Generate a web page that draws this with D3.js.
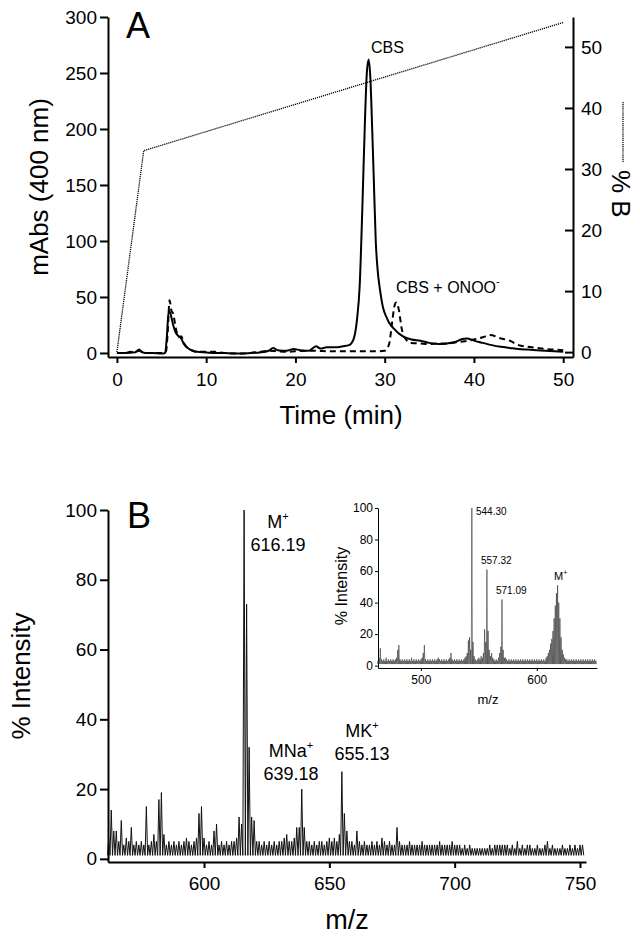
<!DOCTYPE html>
<html>
<head>
<meta charset="utf-8">
<script src="https://cdn.jsdelivr.net/npm/d3@7"></script>
<style>
body { margin: 0; background: #fff; }
text { font-family: Arial, "Liberation Sans", sans-serif; fill: #000; }
</style>
</head>
<body>
<script>
// ---- panel A data: HPLC traces (mAbs at 400 nm) and %B gradient
const cbsTime = [0,0.5,1,1.5,2,2.5,2.8,3.2,4,5,5.4,5.6,5.8,6.0,6.3,6.6,6.9,7.2,7.5,8,8.5,9,10,11,12,13,14,15,16,17,17.5,18,19,19.8,20.5,21.5,22.3,22.8,23.5,24.5,25.3,26,26.5,26.9,27.2,27.5,27.8,28.0,28.2,28.4,28.6,28.8,29.0,29.2,29.5,29.8,30.2,30.5,31,32,33,34,35,36,37,38,38.7,39.2,40,41,42,43,44,45,46,47,48,49,50];
const cbsAbs  = [0,0,0,1,0.5,3,1,0,0,-0.5,0,15,38,35,25,18,15,13,8,4,2,1,0.5,0,0,-0.5,-0.5,0,0.5,2,4.5,2.5,2,3.5,2.5,2,6,4,5,5,6,7,12,30,60,130,210,250,262,245,200,150,100,75,55,41,32,27,22,15,12,11,9,8,8.5,10,12.5,13,11,9,7,5.5,4.5,3.5,3,2.5,2,1.5,1];

const onooTime = [0,1,2,2.5,3,4,5,5.5,5.7,5.9,6.1,6.3,6.6,6.9,7.2,7.5,8,8.5,9,10,11,12,14,15,16,17,18,19,20,22,24,26,28,29,30,30.5,30.8,31.1,31.3,31.6,31.9,32.3,33,34,35,36,37,38,39,40,41,41.8,43,44,45,46,47,48,49,50];
const onooAbs  = [0,0,0.5,2,0,0,0,1,20,47,38,35,22,14,15,9,4,2,1,1,1,0,-0.5,0,1,2,1.5,1,1.5,2,1.5,1.5,1.5,1.5,2,8,25,42,45,38,22,13,9,8.5,8,8.5,8.5,9.5,10.5,12,14,16,13,11,7,5.5,4.5,3.5,3,2.5];

const gradTime = [0, 3, 50];
const gradB    = [0, 33, 54];

const timeTicks = [0, 10, 20, 30, 40, 50];
const absTicks  = [0, 50, 100, 150, 200, 250, 300];
const pctBTicks = [0, 10, 20, 30, 40, 50];

// ---- panel B data: mass spectrum, one intensity per nominal m/z
const msStart = 562;
const msIntensity = [
  6,14,8,8,5,11,4,6,5,9,
  4,5,4,5,4,15,4,5,7,5,
  17,19,7,4,5,4,5,4,5,4,
  5,6,5,4,5,6,13,15,6,4,
  5,4,8,10,4,5,4,5,4,5,
  5,6,12,10,100,73,32,12,11,5,
  5,4,5,4,5,4,5,4,5,5,
  6,7,5,5,6,9,9,20,9,5,
  5,4,5,4,5,5,4,5,6,5,
  6,5,7,25,13,8,5,5,4,8,
  5,4,5,4,4,5,4,5,4,6,
  5,4,5,4,4,9,5,4,4,4,
  5,4,4,4,4,5,4,4,4,4,
  4,4,5,4,4,4,4,5,4,4,
  4,3,4,3,4,3,3,3,3,3,
  3,3,4,3,4,4,4,4,4,4,
  3,4,3,5,3,4,3,4,4,3,
  3,4,3,3,4,5,3,4,3,3,
  3,4,3,3,4,3,4,3,4,4
];
const msFloor = 1;
const mzTicks  = [600, 650, 700, 750];
const intTicks = [0, 20, 40, 60, 80, 100];
const msIons   = ['M', 'MNa', 'MK'];
const msMasses = ['616.19', '639.18', '655.13'];

// inset spectrum
const insetStart = 463;
const insetIntensity = [
  3,5,11,4,3,4,3,5,3,4,
  3,4,3,4,3,4,5,10,13,4,
  3,4,3,4,3,4,3,4,3,5,
  3,4,3,4,3,4,3,4,5,8,
  13,4,3,4,3,4,3,4,3,4,
  3,4,5,4,3,4,3,4,3,4,
  3,4,5,8,4,3,4,3,4,3,
  4,3,4,3,4,5,6,8,16,18,
  10,100,15,6,4,3,4,5,4,6,
  5,8,23,15,61,22,10,6,8,5,
  4,3,4,3,5,8,12,42,10,5,
  5,4,3,4,3,4,3,4,3,4,
  3,4,3,4,3,4,3,4,3,4,
  3,4,3,4,3,4,3,4,3,4,
  3,4,3,4,3,5,6,8,10,14,
  17,22,30,38,46,51,40,30,18,10,
  7,5,4,4,3,4,3,4,3,4,
  3,4,3,4,3,4,3,4,3,4,
  3,4,3,4,3,4,3,4,3
];
const insetMzTicks  = [500, 600];
const insetIntTicks = [0, 20, 40, 60, 80, 100];
const insetLabels = ['544.30', '557.32', '571.09'];

const svg = d3.select('body').append('svg')
  .attr('width', 640)
  .attr('height', 939);

function styleAxis(g, size, width) {
  g.attr('font-size', size).attr('font-family', 'Arial, "Liberation Sans", sans-serif');
  g.selectAll('path, line').attr('stroke', '#000').attr('stroke-width', width);
  g.selectAll('text').attr('fill', '#000');
}

// ================= panel A =================
const xA = d3.scaleLinear().domain([-1.0, 51.1]).range([108, 573]);
const yA = d3.scaleLinear().domain([-3.6, 300]).range([357, 17]);
const yB = d3.scaleLinear().domain([-0.8, 54.9]).range([357, 17]);

svg.append('g')
  .attr('transform', 'translate(0,357)')
  .call(d3.axisBottom(xA).tickValues(timeTicks).tickSize(6).tickPadding(10).tickSizeOuter(0))
  .call(styleAxis, 19, 2);

svg.append('g')
  .attr('transform', 'translate(108,0)')
  .call(d3.axisLeft(yA).tickValues(absTicks).tickSize(8).tickPadding(3).tickSizeOuter(0))
  .call(styleAxis, 19, 2);

svg.append('g')
  .attr('transform', 'translate(573,0)')
  .call(d3.axisRight(yB).tickValues(pctBTicks).tickSize(-8).tickPadding(8).tickSizeOuter(0))
  .call(styleAxis, 19, 2);

const lineA = d3.line().x(d => xA(d[0])).y(d => yA(d[1])).curve(d3.curveMonotoneX);

// gradient (dotted, right axis)
svg.append('path')
  .datum(d3.zip(gradTime, gradB))
  .attr('d', d3.line().x(d => xA(d[0])).y(d => yB(d[1])))
  .attr('fill', 'none')
  .attr('stroke', '#000')
  .attr('stroke-width', 1.3)
  .attr('stroke-dasharray', '1.2,0.9');

svg.append('path')
  .datum(d3.zip(onooTime, onooAbs))
  .attr('d', lineA)
  .attr('fill', 'none')
  .attr('stroke', '#000')
  .attr('stroke-width', 2)
  .attr('stroke-dasharray', '6,4');

svg.append('path')
  .datum(d3.zip(cbsTime, cbsAbs))
  .attr('d', lineA)
  .attr('fill', 'none')
  .attr('stroke', '#000')
  .attr('stroke-width', 2);

svg.append('text').attr('x', 126).attr('y', 38).attr('font-size', 36).text('A');

svg.append('text').attr('x', 371).attr('y', 53).attr('font-size', 16).text('CBS');

const onooLabel = svg.append('text').attr('x', 396).attr('y', 293).attr('font-size', 16);
onooLabel.append('tspan').text('CBS + ONOO');
onooLabel.append('tspan').attr('font-size', 11).attr('dy', -8).text('-');

svg.append('text')
  .attr('transform', 'translate(48,187) rotate(-90)')
  .attr('text-anchor', 'middle')
  .attr('font-size', 26)
  .text('mAbs (400 nm)');

svg.append('text')
  .attr('x', 341).attr('y', 424)
  .attr('text-anchor', 'middle')
  .attr('font-size', 26)
  .text('Time (min)');

// %B legend: dotted line + rotated label
svg.append('line')
  .attr('x1', 623).attr('x2', 623).attr('y1', 102).attr('y2', 163)
  .attr('stroke', '#000').attr('stroke-width', 1.3).attr('stroke-dasharray', '1.2,0.9');

svg.append('text')
  .attr('transform', 'translate(612,170) rotate(90)')
  .attr('font-size', 26)
  .text('% B');

// ================= panel B =================
const xM = d3.scaleLinear().domain([561.7, 752.4]).range([108, 586]);
const yM = d3.scaleLinear().domain([-0.9, 100]).range([862, 510]);

svg.append('g')
  .attr('transform', 'translate(0,862)')
  .call(d3.axisBottom(xM).tickValues(mzTicks).tickSize(6).tickPadding(9).tickSizeOuter(0))
  .call(styleAxis, 19, 2);

svg.append('g')
  .attr('transform', 'translate(108,0)')
  .call(d3.axisLeft(yM).tickValues(intTicks).tickSize(8).tickPadding(3).tickSizeOuter(0))
  .call(styleAxis, 19, 2);

// peak list -> comb line with a valley between nominal masses
function combPoints(start, values, floor) {
  const pts = [];
  values.forEach((v, i) => {
    pts.push([start + i - 0.5, floor]);
    pts.push([start + i, v]);
  });
  pts.push([start + values.length - 0.5, floor]);
  return pts;
}

svg.append('path')
  .datum(combPoints(msStart, msIntensity, msFloor))
  .attr('d', d3.line().x(d => xM(d[0])).y(d => yM(d[1])))
  .attr('fill', 'none')
  .attr('stroke', '#111')
  .attr('stroke-width', 1);

svg.append('text').attr('x', 127).attr('y', 528).attr('font-size', 36).text('B');

// ion labels
const ionX = [278, 291, 362];
const ionY = [528, 757, 737];
msIons.forEach((ion, i) => {
  const t = svg.append('text')
    .attr('x', ionX[i]).attr('y', ionY[i])
    .attr('text-anchor', 'middle')
    .attr('font-size', 18);
  t.append('tspan').text(ion);
  t.append('tspan').attr('font-size', 11).attr('dy', -8).text('+');
  svg.append('text')
    .attr('x', ionX[i]).attr('y', ionY[i] + 22.5)
    .attr('text-anchor', 'middle')
    .attr('font-size', 18)
    .text(msMasses[i]);
});

svg.append('text')
  .attr('transform', 'translate(30,676) rotate(-90)')
  .attr('text-anchor', 'middle')
  .attr('font-size', 26)
  .text('% Intensity');

svg.append('text')
  .attr('x', 347).attr('y', 929)
  .attr('text-anchor', 'middle')
  .attr('font-size', 27)
  .text('m/z');

// ================= inset =================
const xI = d3.scaleLinear().domain([463, 652]).range([378, 597]);
const yI = d3.scaleLinear().domain([-1.5, 100]).range([668, 508]);

svg.append('g')
  .attr('transform', 'translate(0,668)')
  .call(d3.axisBottom(xI).tickValues(insetMzTicks).tickSize(3).tickPadding(4).tickSizeOuter(0))
  .call(styleAxis, 12, 1);

svg.append('g')
  .attr('transform', 'translate(378,0)')
  .call(d3.axisLeft(yI).tickValues(insetIntTicks).tickSize(3).tickPadding(2).tickSizeOuter(0))
  .call(styleAxis, 12, 1);

svg.append('path')
  .datum(combPoints(insetStart, insetIntensity, 1))
  .attr('d', d3.line().x(d => xI(d[0])).y(d => yI(d[1])))
  .attr('fill', 'none')
  .attr('stroke', '#333')
  .attr('stroke-width', 0.6);

const insetLabX = [476, 481, 496];
const insetLabY = [515, 564, 594];
insetLabels.forEach((lab, i) => {
  svg.append('text')
    .attr('x', insetLabX[i]).attr('y', insetLabY[i])
    .attr('font-size', 10)
    .text(lab);
});

const mIns = svg.append('text').attr('x', 554).attr('y', 580).attr('font-size', 11);
mIns.append('tspan').text('M');
mIns.append('tspan').attr('font-size', 7).attr('dy', -5).text('+');

svg.append('text')
  .attr('transform', 'translate(347,586) rotate(-90)')
  .attr('text-anchor', 'middle')
  .attr('font-size', 16)
  .text('% Intensity');

svg.append('text')
  .attr('x', 488).attr('y', 704)
  .attr('text-anchor', 'middle')
  .attr('font-size', 13)
  .text('m/z');
</script>
</body>
</html>
